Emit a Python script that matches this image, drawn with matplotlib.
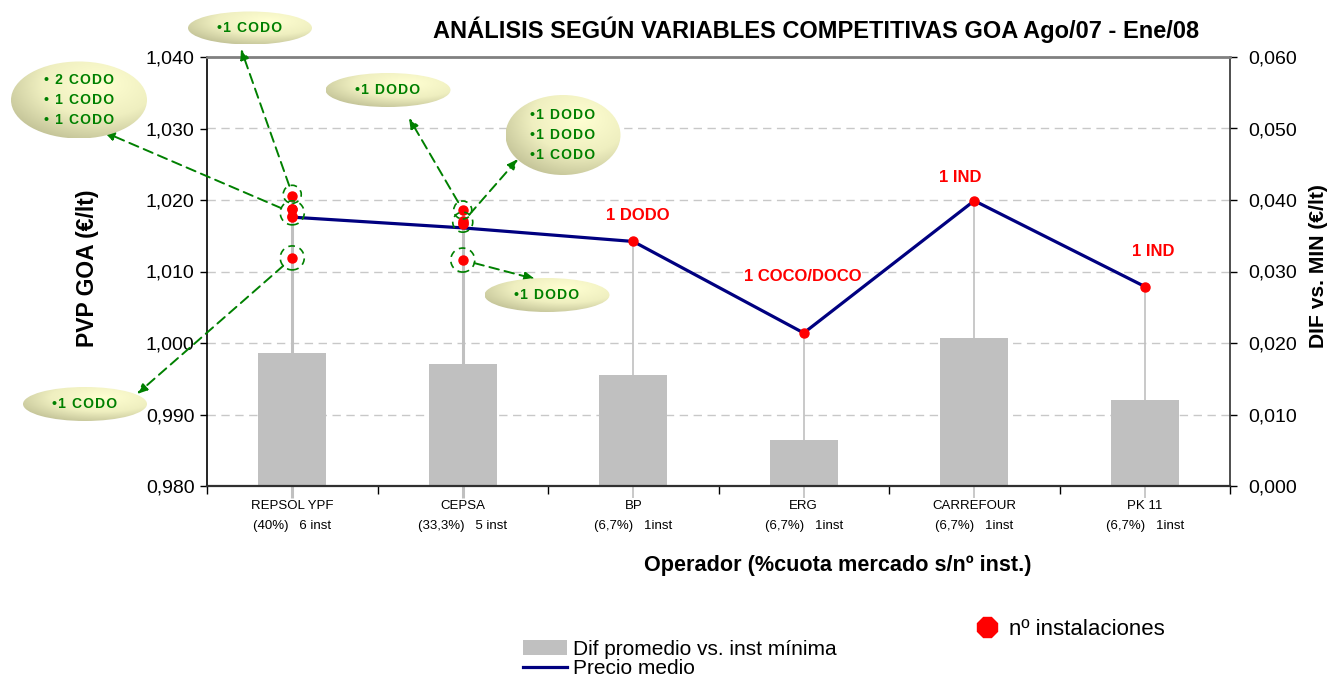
import numpy as np
import matplotlib
matplotlib.use("Agg")
import matplotlib.pyplot as plt
from matplotlib.patches import Ellipse, Patch
from matplotlib.lines import Line2D
from matplotlib.colors import LinearSegmentedColormap

plt.rcParams["font.family"] = ["Liberation Sans", "DejaVu Sans"]

# ─── data ────────────────────────────────────────────────────────────────────
operators = ["REPSOL YPF", "CEPSA", "BP", "ERG", "CARREFOUR", "PK 11"]
shares    = ["(40%)", "(33,3%)", "(6,7%)", "(6,7%)", "(6,7%)", "(6,7%)"]
n_inst    = ["6 inst", "5 inst", "1inst", "1inst", "1inst", "1inst"]

precio_medio = [1.0176, 1.0161, 1.0142, 1.0014, 1.0199, 1.0079]   # left axis
dif_promedio = [0.0186, 0.0171, 0.0155, 0.0064, 0.0207, 0.0120]   # right axis

# price of every installation (red dots), per operator
inst_prices = [
    [1.0206, 1.0188, 1.0187, 1.0177, 1.0176, 1.0119],
    [1.0186, 1.0170, 1.0168, 1.0167, 1.0116],
    [1.0142],
    [1.0014],
    [1.0199],
    [1.0079],
]
point_labels = ["", "", "1 DODO", "1 COCO/DOCO", "1 IND", "1 IND"]

# dashed circles: (operator index, centre price, radius px)
circles = [(0, 1.0208, 9), (0, 1.0182, 12), (0, 1.0119, 12),
           (1, 1.0186, 9), (1, 1.0169, 10), (1, 1.0116, 12)]

# callouts: centre x, centre y, width, height (figure px, y down), text
callouts = [
    (250, 28, 124, 33, "•1 CODO"),
    (79, 100, 136, 77, "• 2 CODO\n• 1 CODO\n• 1 CODO"),
    (388, 90, 125, 34, "•1 DODO"),
    (563, 135, 115, 80, "•1 DODO\n•1 DODO\n•1 CODO"),
    (547, 295, 125, 34, "•1 DODO"),
    (85, 404, 124, 34, "•1 CODO"),
]
# arrows: circle index -> arrow tip (figure px, y down)
arrows = [(0, (241, 49)), (1, (104, 132)), (2, (137, 394)),
          (3, (409, 118)), (4, (518, 159)), (5, (535, 279))]

W, H = 1330, 682
def fp(x, y):
    return (x / W, 1 - y / H)

def spaced(s):
    # wide letter spacing like the original callouts
    return "\n".join("\u200a".join(line) for line in s.split("\n"))

# ─── figure ──────────────────────────────────────────────────────────────────
fig = plt.figure(figsize=(13.3, 6.82), dpi=100)
fig.patch.set_facecolor("white")
ax = fig.add_axes([207 / W, 1 - 486 / H, (1230 - 207) / W, (486 - 57) / H])
ax2 = ax.twinx()
ax.set_zorder(ax2.get_zorder() + 1)
ax.patch.set_visible(False)

x = np.arange(len(operators))

# bars on right axis
ax2.bar(x, dif_promedio, width=0.4, color="#C0C0C0", zorder=2)
ax2.set_ylim(0, 0.06)
rticks = np.arange(0, 0.0601, 0.01)
ax2.set_yticks(rticks)
ax2.set_yticklabels([f"{v:.3f}".replace(".", ",") for v in rticks], fontsize=14)
ax2.set_axisbelow(True)
ax2.yaxis.grid(True, color="#C8C8C8", linestyle=(0, (6, 4)), linewidth=1)
ax2.tick_params(axis="y", direction="out", length=5, width=1, pad=8)

# drop lines (run a little below the axis, as in the original)
for i, prices in enumerate(inst_prices):
    ax.vlines(i, 0.9783, max(prices), color="#C0C0C0",
              linewidth=2.2 if len(prices) > 1 else 1.2, zorder=2, clip_on=False)

ax.plot(x, precio_medio, color="#000080", linewidth=2.3, zorder=3)

px = [i for i, p in enumerate(inst_prices) for _ in p]
py = [v for p in inst_prices for v in p]
ax.plot(px, py, "o", color="red", markersize=6.5, zorder=4, linestyle="none")

# red labels
offsets = {2: (3, 19), 3: (-1, 41), 4: (-10, 17), 5: (6, 25)}
for i, lab in enumerate(point_labels):
    if lab:
        dx, dy = offsets[i]
        ax.annotate(lab, (i, precio_medio[i]), xytext=(dx, dy),
                    textcoords="offset points", ha="center", va="center",
                    color="red", fontsize=12, fontweight="bold", zorder=5,
                    bbox=dict(fc="white", ec="none", pad=0.5))

# dashed circles
xr = 1 / 170.5
yr = 0.01 / 71.5
for i, c, r in circles:
    ax.add_patch(Ellipse((i, c), 2 * r * xr, 2 * r * yr, fill=False,
                         edgecolor="#008000", linestyle=(0, (4, 3)),
                         linewidth=1.2, zorder=5, clip_on=False))

# arrows
for ci, tip in arrows:
    i, c, r = circles[ci]
    ax.annotate("", xy=fp(*tip), xycoords="figure fraction",
                xytext=(i, c), textcoords="data",
                arrowprops=dict(arrowstyle="-|>,head_length=0.6,head_width=0.25",
                                color="#008000", linestyle=(0, (5, 3)),
                                linewidth=1.4, shrinkA=r * 0.72, shrinkB=0),
                annotation_clip=False, zorder=6)

# axes styling
ax.set_xlim(-0.5, len(operators) - 0.5)
ax.set_ylim(0.98, 1.04)
ticks = np.arange(0.98, 1.0401, 0.01)
ax.set_yticks(ticks)
ax.set_yticklabels([f"{v:.3f}".replace(".", ",") for v in ticks], fontsize=14)
ax.tick_params(axis="y", direction="out", length=5, width=1, pad=4)
ax.set_xticks(x)
ax.set_xticklabels([f"{o}\n{s}   {n}" for o, s, n in zip(operators, shares, n_inst)],
                   fontsize=9.5, linespacing=1.85)
ax.tick_params(axis="x", which="major", length=0, pad=10)
ax.set_xticks(np.arange(-0.5, len(operators), 1.0), minor=True)
ax.tick_params(axis="x", which="minor", direction="out", length=6, width=1)

ax.spines["top"].set_color("#808080")
ax.spines["top"].set_linewidth(2)
ax.spines["left"].set_linewidth(1.2)
ax.spines["bottom"].set_linewidth(1.6)
ax.spines["bottom"].set_color("#303030")
ax.spines["right"].set_visible(False)
ax2.spines["right"].set_color("#303030")
ax2.spines["right"].set_linewidth(1.2)
for s in ["top", "left", "bottom"]:
    ax2.spines[s].set_visible(False)

# texts
fig.text(*fp(816, 30), "ANÁLISIS SEGÚN VARIABLES COMPETITIVAS GOA Ago/07 - Ene/08",
         ha="center", va="center", fontsize=17, fontweight="bold")
fig.text(*fp(88, 268), "PVP GOA (€/lt)", rotation=90, ha="center", va="center",
         fontsize=16.5, fontweight="bold")
fig.text(*fp(1318, 266), "DIF vs. MIN (€/lt)", rotation=90, ha="center", va="center",
         fontsize=15.2, fontweight="bold")
fig.text(*fp(838, 566), "Operador (%cuota mercado s/nº inst.)", ha="center",
         va="center", fontsize=15.6, fontweight="bold")

# callout ellipses with gradient fill
ov = fig.add_axes([0, 0, 1, 1], zorder=10)
ov.patch.set_visible(False)
ov.axis("off")
cmap = LinearSegmentedColormap.from_list("cream", ["#FFFFD2", "#EFEFC0", "#B9B98E"])
gy, gx = np.mgrid[-1:1:120j, -1:1:120j]
grad = np.sqrt((gx - 0.3) ** 2 + (gy + 0.4) ** 2) / 1.7
for cx, cy, w, h, txt in callouts:
    e = Ellipse((cx, cy), w, h, facecolor="none", edgecolor="none")
    ov.add_patch(e)
    im = ov.imshow(grad, cmap=cmap, vmin=0, vmax=1, aspect="auto",
                   extent=(cx - w / 2, cx + w / 2, cy + h / 2, cy - h / 2),
                   interpolation="bilinear")
    im.set_clip_path(e)
    ov.text(cx, cy, spaced(txt), ha="center", va="center", color="#008000",
            fontsize=10, fontweight="bold", linespacing=1.55,
            family=["Liberation Sans", "DejaVu Sans"])
ov.set_xlim(0, W)
ov.set_ylim(H, 0)

# legends
h1 = [Patch(facecolor="#C0C0C0", edgecolor="none"),
      Line2D([], [], color="#000080", linewidth=2.3)]
fig.legend(h1, ["Dif promedio vs. inst mínima", "Precio medio"],
           loc="upper left", bbox_to_anchor=fp(523, 640), frameon=False,
           fontsize=15, handlelength=2.1, handleheight=0.7, handletextpad=0.3,
           labelspacing=0.0, borderpad=0, borderaxespad=0)
h2 = [Line2D([], [], marker="8", color="red", markersize=15, linestyle="none")]
fig.legend(h2, ["nº instalaciones"], loc="upper left", bbox_to_anchor=fp(976, 619),
           frameon=False, fontsize=16, handlelength=1.0, handletextpad=0.5,
           borderpad=0, borderaxespad=0)

fig.savefig("out.png", dpi=100, facecolor="white")
